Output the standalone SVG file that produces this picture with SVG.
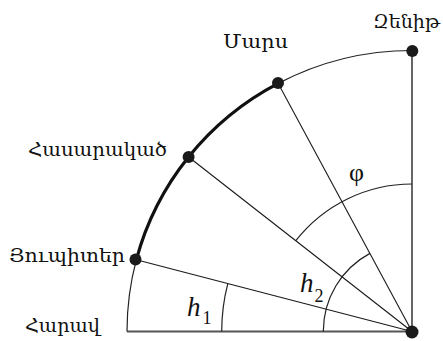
<svg xmlns="http://www.w3.org/2000/svg" width="443" height="341" viewBox="0 0 443 341">
<style>
.lbl{font-family:"DejaVu Serif","Liberation Serif",serif;font-size:18px;fill:#111}
.math{font-family:"Liberation Serif",serif;fill:#111}
.ray{stroke:#1a1a1a;stroke-width:1.1;fill:none}
.axis{stroke:#555;stroke-width:1.8;fill:none}
.arc{stroke:#222;stroke-width:1.2;fill:none}
.thick{stroke:#111;stroke-width:3.2;fill:none;stroke-linecap:round}
.dot{fill:#1a1a1a}
</style>
<rect width="443" height="341" fill="#fff"/>
<g id="connectors">
<line class="axis" x1="127" y1="331.5" x2="412" y2="331.5"/>
<line class="axis" x1="412" y1="50.5" x2="412" y2="331.5"/>
<line class="ray" x1="136.3" y1="259.8" x2="412" y2="331.5"/>
<line class="ray" x1="188.6" y1="157" x2="412" y2="331.5"/>
<line class="ray" x1="278.2" y1="83.4" x2="412" y2="331.5"/>
<path class="arc" d="M127 331.5 A285 281 0 0 1 136.3 259.8"/>
<path class="thick" d="M136.3 259.8 A285 281 0 0 1 278.2 83.4"/>
<path class="arc" d="M278.2 83.4 A285 281 0 0 1 412 50.5"/>
<path class="arc" d="M221.7 331.5 A190.3 190.3 0 0 1 227.8 283.6"/>
<path class="arc" d="M323.3 331.5 A88.7 88.7 0 0 1 369.9 253.4"/>
<path class="arc" d="M412 184 A147.5 147.5 0 0 0 295.8 240.7"/>
</g>
<g id="zenith"><circle class="dot" cx="412.3" cy="51" r="6"/><text class="lbl" x="373" y="28" textLength="67" lengthAdjust="spacingAndGlyphs">Զենիթ</text></g>
<g id="mars"><circle class="dot" cx="278" cy="83" r="6"/><text class="lbl" x="223" y="48" textLength="65" lengthAdjust="spacingAndGlyphs">Մարս</text></g>
<g id="equator"><circle class="dot" cx="188.6" cy="157" r="6"/><text class="lbl" x="28" y="156" textLength="139" lengthAdjust="spacingAndGlyphs">Հասարակած</text></g>
<g id="jupiter"><circle class="dot" cx="135.5" cy="259.5" r="6"/><text class="lbl" x="9" y="262" textLength="116" lengthAdjust="spacingAndGlyphs">Յուպիտեր</text></g>
<g id="south"><text class="lbl" x="25" y="332" textLength="75" lengthAdjust="spacingAndGlyphs">Հարավ</text></g>
<g id="observer"><circle class="dot" cx="412" cy="332" r="6.5"/></g>
<g id="angles">
<text class="math" x="356.5" y="181" font-size="26" text-anchor="middle">φ</text>
<text class="math" x="187" y="316" font-size="27" font-style="italic">h</text>
<text class="math" x="202.5" y="324" font-size="18">1</text>
<text class="math" x="300" y="292" font-size="27" font-style="italic">h</text>
<text class="math" x="314.5" y="302" font-size="18">2</text>
</g>
</svg>
